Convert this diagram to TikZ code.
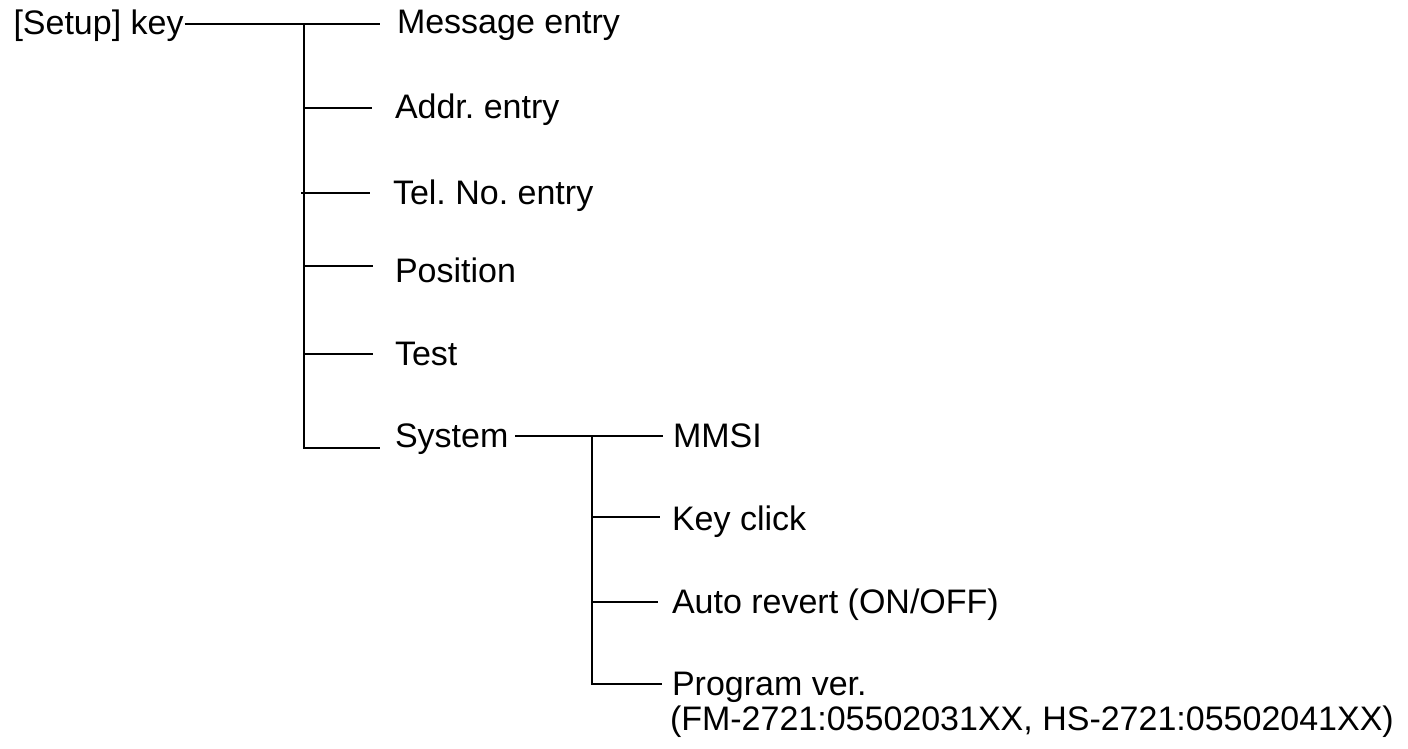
\documentclass[tikz,border=0pt]{standalone}
\usepackage{fontspec}
\setmainfont{Liberation Sans}
\frenchspacing
\begin{document}
\begin{tikzpicture}[x=0.5pt,y=-0.5pt,line width=0.9pt,
  item/.style={anchor=base west,inner ysep=0pt,outer sep=0pt,
    font=\fontsize{17}{20}\selectfont}]
\useasboundingbox (0,0) rectangle (1408,749);
% first level texts
\node[item,inner xsep=0.5pt] (setup) at (12.5,35) {[Setup] key};
\node[item,inner xsep=8.5pt] (msg)  at (380,34)  {Message entry};
\node[item,inner xsep=11.5pt] (addr) at (372,119) {Addr. entry};
\node[item,inner xsep=11.5pt] (tel)  at (370,204) {Tel. No. entry};
\node[item,inner xsep=11pt] (pos)  at (373,282) {Position};
\node[item,inner xsep=11pt] (test) at (373,365) {Test};
\node[item,inner xsep=7.5pt] (sys)  at (380,447) {System};
% second level texts
\node[item,inner xsep=5pt] (mmsi) at (663,447) {MMSI};
\node[item,inner xsep=6pt] (key)  at (660,530) {Key click};
\node[item,inner xsep=7pt] (auto) at (658,613) {Auto revert (ON/OFF)};
\node[item,inner xsep=5pt] (prog) at (662,695) {Program ver.};
\node[item,inner xsep=4pt] (progb) at (662,730) {(FM-2721:05502031XX, HS-2721:05502041XX)};
% trunk points
\coordinate (t1) at (304,24);
\coordinate (t2) at (304,108);
\coordinate (t3) at (301,193);
\coordinate (t4) at (304,266);
\coordinate (t5) at (304,354);
\coordinate (t6) at (304,448);
\coordinate (s1) at (592,436);
\coordinate (s2) at (592,517);
\coordinate (s3) at (592,602);
\coordinate (s4) at (592,684);
% connectors
\draw (setup.east |- t1) -- (t1 -| msg.west);
\draw (t1) -- (t6) -- (t6 -| sys.west);
\draw (t2) -- (t2 -| addr.west);
\draw (t3) -- (t3 -| tel.west);
\draw (t4) -- (t4 -| pos.west);
\draw (t5) -- (t5 -| test.west);
\draw ([xshift=-4pt]sys.east |- s1) -- (s1 -| mmsi.west);
\draw (s1) -- (s4) -- (s4 -| prog.west);
\draw (s2) -- (s2 -| key.west);
\draw (s3) -- (s3 -| auto.west);
\end{tikzpicture}
\end{document}
